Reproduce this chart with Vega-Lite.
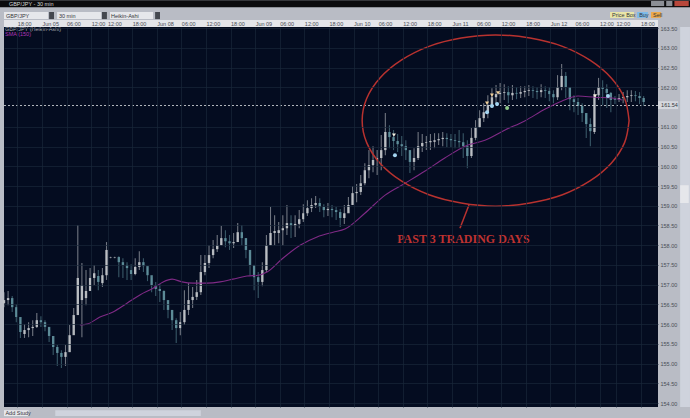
{"$schema":"https://vega.github.io/schema/vega-lite/v6.json","autosize":"none","width":654,"height":380,"padding":{"left":4,"top":27,"right":32,"bottom":11},"background":"#b9bcc5","view":{"fill":"#040c20","stroke":null},
"config":{"font":"Liberation Sans"},
"datasets":{
"bars":[{"b":0,"o":156.53,"c":156.61,"h":156.81,"l":156.43},{"b":2,"o":156.61,"c":156.66,"h":156.84,"l":156.48},{"b":4,"o":156.66,"c":156.43,"h":156.71,"l":156.31},{"b":6,"o":156.43,"c":156.18,"h":156.51,"l":156.05},{"b":8,"o":156.18,"c":155.8,"h":156.1,"l":155.65},{"b":10,"o":155.75,"c":155.85,"h":156,"l":155.65},{"b":12,"o":155.85,"c":155.9,"h":156.05,"l":155.67},{"b":14,"o":155.9,"c":155.93,"h":156.1,"l":155.7},{"b":16,"o":155.93,"c":156.1,"h":156.28,"l":155.9},{"b":18,"o":156.1,"c":156.05,"h":156.2,"l":155.93},{"b":20,"o":156.05,"c":155.93,"h":156.1,"l":155.82},{"b":22,"o":155.93,"c":155.7,"h":155.9,"l":155.55},{"b":24,"o":155.7,"c":155.42,"h":155.6,"l":155.22},{"b":26,"o":155.42,"c":155.27,"h":155.47,"l":154.94},{"b":28,"o":155.27,"c":155.17,"h":155.34,"l":154.89},{"b":30,"o":155.17,"c":155.29,"h":155.47,"l":154.94},{"b":32,"o":155.29,"c":155.72,"h":155.98,"l":155.34},{"b":34,"o":155.72,"c":156.23,"h":156.41,"l":155.9},{"b":36,"o":156.23,"c":157.17,"h":158.51,"l":156.48},{"b":38,"o":156.61,"c":156.99,"h":157.55,"l":155.67},{"b":40,"o":156.66,"c":156.84,"h":157.37,"l":156.48},{"b":42,"o":156.84,"c":157.17,"h":157.42,"l":156.86},{"b":44,"o":157.17,"c":157.29,"h":157.5,"l":156.99},{"b":46,"o":157.22,"c":157.07,"h":157.37,"l":156.86},{"b":48,"o":157.04,"c":157.24,"h":157.42,"l":156.94},{"b":50,"o":157.24,"c":157.88,"h":158.08,"l":157.12},{"b":52,"o":157.69,"c":157.7,"h":157.71,"l":157.67},{"b":54,"o":157.69,"c":157.7,"h":157.71,"l":157.67},{"b":56,"o":157.7,"c":157.57,"h":157.72,"l":157.19},{"b":58,"o":157.57,"c":157.5,"h":157.67,"l":157.17},{"b":60,"o":157.5,"c":157.42,"h":157.57,"l":157.12},{"b":62,"o":157.37,"c":157.27,"h":157.52,"l":157.12},{"b":64,"o":157.27,"c":157.45,"h":157.67,"l":157.24},{"b":66,"o":157.45,"c":157.57,"h":157.85,"l":157.37},{"b":68,"o":157.57,"c":157.47,"h":157.67,"l":157.32},{"b":70,"o":157.47,"c":157.24,"h":157.42,"l":157.09},{"b":72,"o":157.24,"c":156.99,"h":157.17,"l":156.81},{"b":74,"o":156.99,"c":156.89,"h":157.07,"l":156.71},{"b":76,"o":156.89,"c":156.84,"h":157.02,"l":156.56},{"b":78,"o":156.84,"c":156.61,"h":156.86,"l":156.36},{"b":80,"o":156.61,"c":156.36,"h":156.58,"l":156.15},{"b":82,"o":156.36,"c":156.1,"h":156.36,"l":155.85},{"b":84,"o":156.1,"c":155.9,"h":156.15,"l":155.52},{"b":86,"o":155.9,"c":156.05,"h":156.31,"l":155.72},{"b":88,"o":156.05,"c":156.36,"h":156.86,"l":155.98},{"b":90,"o":156.36,"c":156.61,"h":157.04,"l":156.23},{"b":92,"o":156.61,"c":156.69,"h":156.94,"l":156.41},{"b":94,"o":156.69,"c":156.81,"h":157.12,"l":156.61},{"b":96,"o":156.81,"c":157.32,"h":157.75,"l":156.74},{"b":98,"o":157.32,"c":157.55,"h":157.75,"l":157.24},{"b":100,"o":157.55,"c":157.75,"h":158,"l":157.42},{"b":102,"o":157.75,"c":157.9,"h":158.13,"l":157.67},{"b":104,"o":157.9,"c":158,"h":158.26,"l":157.83},{"b":106,"o":158,"c":158.18,"h":158.49,"l":158},{"b":108,"o":158.18,"c":158.1,"h":158.38,"l":157.95},{"b":110,"o":158.1,"c":158.05,"h":158.26,"l":157.88},{"b":112,"o":158.05,"c":158.08,"h":158.31,"l":157.93},{"b":114,"o":158.08,"c":158.33,"h":158.56,"l":158.08},{"b":116,"o":158.33,"c":158.18,"h":158.51,"l":158},{"b":118,"o":158.18,"c":157.88,"h":158.18,"l":157.67},{"b":120,"o":157.88,"c":157.5,"h":157.83,"l":157.24},{"b":122,"o":157.5,"c":157.19,"h":157.5,"l":156.86},{"b":124,"o":157.19,"c":157.07,"h":157.32,"l":156.66},{"b":126,"o":157.07,"c":157.37,"h":157.57,"l":156.96},{"b":128,"o":157.37,"c":158,"h":158.26,"l":157.32},{"b":130,"o":158,"c":158.31,"h":158.97,"l":158},{"b":132,"o":158.31,"c":158.36,"h":158.76,"l":158},{"b":134,"o":158.31,"c":158.38,"h":158.59,"l":158.05},{"b":136,"o":158.38,"c":158.43,"h":158.76,"l":158},{"b":138,"o":158.43,"c":158.56,"h":159.02,"l":158.26},{"b":140,"o":158.56,"c":158.49,"h":158.76,"l":158.18},{"b":142,"o":158.49,"c":158.54,"h":158.76,"l":158.21},{"b":144,"o":158.54,"c":158.66,"h":158.89,"l":158.43},{"b":146,"o":158.66,"c":158.81,"h":159.04,"l":158.59},{"b":148,"o":158.81,"c":158.94,"h":159.14,"l":158.74},{"b":150,"o":158.94,"c":159.02,"h":159.19,"l":158.84},{"b":152,"o":159.02,"c":159.07,"h":159.25,"l":158.94},{"b":154,"o":159.07,"c":158.97,"h":159.19,"l":158.84},{"b":156,"o":158.97,"c":158.89,"h":159.04,"l":158.71},{"b":158,"o":158.89,"c":158.92,"h":159.07,"l":158.74},{"b":160,"o":158.92,"c":158.89,"h":159.02,"l":158.71},{"b":162,"o":158.89,"c":158.84,"h":158.97,"l":158.64},{"b":164,"o":158.84,"c":158.69,"h":158.92,"l":158.46},{"b":166,"o":158.69,"c":158.81,"h":159.02,"l":158.54},{"b":168,"o":158.81,"c":159.02,"h":159.22,"l":158.84},{"b":170,"o":159.02,"c":159.32,"h":159.5,"l":159.02},{"b":172,"o":159.32,"c":159.35,"h":159.55,"l":159.09},{"b":174,"o":159.35,"c":159.57,"h":159.78,"l":159.27},{"b":176,"o":159.57,"c":159.9,"h":160.08,"l":159.52},{"b":178,"o":159.9,"c":160.03,"h":160.41,"l":159.7},{"b":180,"o":160.03,"c":160.16,"h":160.51,"l":159.85},{"b":182,"o":160.16,"c":160.21,"h":160.41,"l":159.78},{"b":184,"o":160.21,"c":160.41,"h":160.79,"l":159.9},{"b":186,"o":160.41,"c":160.87,"h":161.35,"l":160.28},{"b":188,"o":160.87,"c":160.74,"h":161.04,"l":160.46},{"b":190,"o":160.74,"c":160.64,"h":160.92,"l":160.41},{"b":192,"o":160.64,"c":160.56,"h":160.82,"l":160.36},{"b":194,"o":160.56,"c":160.51,"h":160.77,"l":160.26},{"b":196,"o":160.51,"c":160.41,"h":160.66,"l":160.16},{"b":198,"o":160.41,"c":160.11,"h":160.41,"l":159.83},{"b":200,"o":160.11,"c":160.21,"h":160.46,"l":159.9},{"b":202,"o":160.21,"c":160.51,"h":160.87,"l":160.16},{"b":204,"o":160.51,"c":160.59,"h":160.82,"l":160.36},{"b":206,"o":160.59,"c":160.61,"h":160.77,"l":160.41},{"b":208,"o":160.61,"c":160.64,"h":160.82,"l":160.41},{"b":210,"o":160.62,"c":160.66,"h":160.84,"l":160.46},{"b":212,"o":160.66,"c":160.69,"h":160.84,"l":160.54},{"b":214,"o":160.69,"c":160.72,"h":160.87,"l":160.51},{"b":216,"o":160.72,"c":160.69,"h":160.84,"l":160.49},{"b":218,"o":160.69,"c":160.66,"h":160.82,"l":160.49},{"b":220,"o":160.66,"c":160.64,"h":160.82,"l":160.46},{"b":222,"o":160.64,"c":160.61,"h":160.92,"l":160.46},{"b":224,"o":160.61,"c":160.51,"h":160.84,"l":160.21},{"b":226,"o":160.51,"c":160.26,"h":160.66,"l":159.95},{"b":228,"o":160.26,"c":160.72,"h":160.97,"l":160.21},{"b":230,"o":160.72,"c":160.99,"h":161.17,"l":160.66},{"b":232,"o":160.99,"c":161.22,"h":161.42,"l":160.97},{"b":234,"o":161.22,"c":161.37,"h":161.6,"l":161.12},{"b":236,"o":161.37,"c":161.55,"h":161.8,"l":161.22},{"b":238,"o":161.55,"c":161.75,"h":161.98,"l":161.48},{"b":240,"o":161.75,"c":161.83,"h":162.06,"l":161.58},{"b":242,"o":161.83,"c":161.86,"h":162.11,"l":161.6},{"b":244,"o":161.86,"c":161.88,"h":162.08,"l":161.68},{"b":246,"o":161.88,"c":161.8,"h":162.03,"l":161.6},{"b":248,"o":161.8,"c":161.86,"h":162.06,"l":161.68},{"b":250,"o":161.86,"c":161.84,"h":162.01,"l":161.7},{"b":252,"o":161.84,"c":161.88,"h":162.03,"l":161.73},{"b":254,"o":161.88,"c":161.91,"h":162.03,"l":161.75},{"b":256,"o":161.91,"c":161.93,"h":162.06,"l":161.78},{"b":258,"o":161.93,"c":161.91,"h":162.03,"l":161.73},{"b":260,"o":161.91,"c":161.88,"h":162.01,"l":161.7},{"b":262,"o":161.88,"c":161.93,"h":162.08,"l":161.75},{"b":264,"o":161.93,"c":161.91,"h":162.03,"l":161.73},{"b":266,"o":161.91,"c":161.83,"h":162.01,"l":161.65},{"b":268,"o":161.83,"c":161.75,"h":161.93,"l":161.6},{"b":270,"o":161.75,"c":162.01,"h":162.31,"l":161.68},{"b":272,"o":162.01,"c":162.29,"h":162.59,"l":161.93},{"b":274,"o":162.29,"c":162.01,"h":162.39,"l":161.73},{"b":276,"o":162.01,"c":161.7,"h":161.98,"l":161.42},{"b":278,"o":161.7,"c":161.63,"h":161.8,"l":161.37},{"b":280,"o":161.63,"c":161.53,"h":161.73,"l":161.3},{"b":282,"o":161.53,"c":161.35,"h":161.6,"l":161.12},{"b":284,"o":161.35,"c":161.07,"h":161.32,"l":160.72},{"b":286,"o":161.07,"c":160.89,"h":161.22,"l":160.51},{"b":288,"o":160.87,"c":161.8,"h":161.93,"l":160.82},{"b":290,"o":161.8,"c":162.01,"h":162.24,"l":161.68},{"b":292,"o":162.01,"c":161.96,"h":162.18,"l":161.55},{"b":294,"o":161.96,"c":161.86,"h":162.08,"l":161.48},{"b":296,"o":161.86,"c":161.68,"h":161.88,"l":161.37},{"b":298,"o":161.7,"c":161.68,"h":161.78,"l":161.58},{"b":300,"o":161.7,"c":161.73,"h":161.83,"l":161.63},{"b":302,"o":161.73,"c":161.75,"h":161.88,"l":161.6},{"b":304,"o":161.75,"c":161.78,"h":161.93,"l":161.63},{"b":306,"o":161.78,"c":161.8,"h":161.93,"l":161.63},{"b":308,"o":161.8,"c":161.78,"h":161.91,"l":161.65},{"b":310,"o":161.78,"c":161.73,"h":161.88,"l":161.58},{"b":312,"o":161.73,"c":161.63,"h":161.78,"l":161.53}],
"sma":[{"b":37,"p":155.98},{"b":40.5,"p":156},{"b":46.8,"p":156.18},{"b":53.2,"p":156.31},{"b":60,"p":156.53},{"b":66.3,"p":156.74},{"b":72.7,"p":156.91},{"b":77.6,"p":157.07},{"b":82,"p":157.14},{"b":86.8,"p":157.07},{"b":92.2,"p":157.04},{"b":99,"p":157.04},{"b":105.4,"p":157.07},{"b":111.7,"p":157.14},{"b":118.5,"p":157.22},{"b":124,"p":157.24},{"b":128.3,"p":157.32},{"b":136,"p":157.67},{"b":144.4,"p":158},{"b":152.7,"p":158.21},{"b":160.5,"p":158.33},{"b":166.3,"p":158.41},{"b":176,"p":158.81},{"b":185.9,"p":159.27},{"b":195.6,"p":159.57},{"b":205.4,"p":159.88},{"b":215,"p":160.21},{"b":224.9,"p":160.51},{"b":234.6,"p":160.66},{"b":244.4,"p":160.92},{"b":254,"p":161.15},{"b":264,"p":161.45},{"b":272,"p":161.65},{"b":280,"p":161.78},{"b":288.3,"p":161.75},{"b":296.6,"p":161.73},{"b":301.5,"p":161.68}],
"ellipse":[{"i":0,"b":304.9,"p":161.16},{"i":1,"b":302.7,"p":161.72},{"i":2,"b":296.2,"p":162.24},{"i":3,"b":285.8,"p":162.69},{"i":4,"b":272.4,"p":163.04},{"i":5,"b":256.6,"p":163.25},{"i":6,"b":239.8,"p":163.33},{"i":7,"b":223,"p":163.25},{"i":8,"b":207.3,"p":163.04},{"i":9,"b":193.8,"p":162.69},{"i":10,"b":183.4,"p":162.24},{"i":11,"b":176.9,"p":161.72},{"i":12,"b":174.7,"p":161.16},{"i":13,"b":176.9,"p":160.6},{"i":14,"b":183.4,"p":160.08},{"i":15,"b":193.8,"p":159.63},{"i":16,"b":207.3,"p":159.28},{"i":17,"b":223,"p":159.07},{"i":18,"b":239.8,"p":158.99},{"i":19,"b":256.6,"p":159.07},{"i":20,"b":272.4,"p":159.28},{"i":21,"b":285.8,"p":159.63},{"i":22,"b":296.2,"p":160.08},{"i":23,"b":302.7,"p":160.6},{"i":24,"b":304.9,"p":161.16}],
"pointer":[{"i":0,"b":226.8,"p":159.02},{"i":1,"b":222.4,"p":158.43}],
"signals":[{"b":190.2,"p":160.79,"k":"sell"},{"b":190.7,"p":160.28,"k":"buy"},{"b":235.6,"p":161.6,"k":"order"},{"b":238,"p":161.8,"k":"order"},{"b":241,"p":161.86,"k":"order"},{"b":235.6,"p":161.37,"k":"buy"},{"b":238,"p":161.53,"k":"buy"},{"b":240.5,"p":161.58,"k":"buy"},{"b":245.4,"p":161.48,"k":"exit"},{"b":288.3,"p":161.78,"k":"sell"},{"b":294.6,"p":161.78,"k":"buy"}],
"chrome":[{"x":-1.95,"x2":334.6,"y":164.21,"y2":164.03,"part":"title"},{"x":0,"x2":319,"y":163.71,"y2":163.53,"part":"strip"},{"x":315.6,"x2":322,"y":164.19,"y2":164.06,"part":"control"},{"x":323,"x2":326,"y":164.19,"y2":164.06,"part":"control"},{"x":327,"x2":334,"y":164.19,"y2":164.06,"part":"close"},{"x":0,"x2":21.5,"y":163.91,"y2":163.73,"part":"field"},{"x":22,"x2":24.4,"y":163.91,"y2":163.73,"part":"arrow"},{"x":25.9,"x2":47.3,"y":163.91,"y2":163.73,"part":"field"},{"x":47.8,"x2":50.2,"y":163.91,"y2":163.73,"part":"arrow"},{"x":51.7,"x2":72.7,"y":163.91,"y2":163.73,"part":"field"},{"x":73.7,"x2":76.1,"y":163.91,"y2":163.73,"part":"arrow"},{"x":295.6,"x2":307.3,"y":163.91,"y2":163.76,"part":"pricebox"},{"x":308.8,"x2":314.1,"y":163.91,"y2":163.76,"part":"buy"},{"x":315.6,"x2":320.5,"y":163.91,"y2":163.76,"part":"sell"},{"x":319,"x2":328.8,"y":161.65,"y2":161.45,"part":"label"},{"x":329.8,"x2":334.6,"y":163.53,"y2":153.9,"part":"scroll"},{"x":329.8,"x2":334,"y":159.52,"y2":159.07,"part":"field"},{"x":0,"x2":12,"y":153.82,"y2":153.67,"part":"field"},{"x":25,"x2":96,"y":153.82,"y2":153.67,"part":"scroll"}],
"words":[{"b":2.4,"p":164.11,"t":"GBP/JPY - 30 min","k":"light"},{"b":1,"p":163.82,"t":"GBP/JPY","k":"dark"},{"b":26.8,"p":163.82,"t":"30 min","k":"dark"},{"b":52.2,"p":163.82,"t":"Heikin-Ashi","k":"dark"},{"b":296.6,"p":163.83,"t":"Price Box","k":"dark"},{"b":309.8,"p":163.83,"t":"Buy","k":"dark"},{"b":316.6,"p":163.83,"t":"Sell","k":"dark"},{"b":320.5,"p":161.55,"t":"161.54","k":"dark"},{"b":0.7,"p":153.75,"t":"Add Study","k":"dark"},{"b":0.5,"p":163.48,"t":"GBP/JPY (Heikin-Ashi)","k":"grey"},{"b":0.5,"p":163.35,"t":"SMA (150)","k":"sma"}]
},
"layer":[
{"data":{"name":"bars"},"mark":{"type":"rule","strokeWidth":1.1,"opacity":0.6},
"encoding":{"y":{"field":"l","type":"quantitative","scale":{"domain":[153.9,163.53],"nice":false,"zero":false},"axis":{"orient":"right","title":null,"values":[154,154.5,155,155.5,156,156.5,157,157.5,158,158.5,159,159.5,160,160.5,161,162,162.5,163,163.5],"format":".2f","labelFontSize":5.5,"labelColor":"#4a4d55","labelPadding":2,"tickSize":0,"domain":false,"grid":true,"gridColor":"#18263a","gridWidth":0.7,"zindex":1,"labelOverlap":false,"labelBound":false,"labelFlush":false}},"y2":{"field":"h"},
"x":{"field":"b","type":"quantitative","scale":{"domain":[0,319],"nice":false,"zero":false},"axis":{"orient":"top","title":null,"values":[6.5,18.5,30.5,42.5,50.5,62.5,74.5,86.5,98.5,110.5,122.5,134.5,146.5,158.5,170.5,182.5,194.5,206.5,218.5,230.5,242.5,254.5,266.5,278.5,290.5,298.5,310.5],"labelExpr":"{'6.5':'18:00','18.5':'Jun 05','30.5':'06:00','42.5':'12:00','50.5':'12:00','62.5':'18:00','74.5':'Jun 08','86.5':'06:00','98.5':'12:00','110.5':'18:00','122.5':'Jun 09','134.5':'06:00','146.5':'12:00','158.5':'18:00','170.5':'Jun 10','182.5':'06:00','194.5':'12:00','206.5':'18:00','218.5':'Jun 11','230.5':'06:00','242.5':'12:00','254.5':'18:00','266.5':'Jun 12','278.5':'06:00','290.5':'12:00','298.5':'12:00','310.5':'18:00'}[datum.value]","labelFontSize":5.5,"labelColor":"#4a4d55","labelAlign":"left","labelPadding":1,"labelOverlap":false,"labelBound":false,"labelFlush":false,"tickSize":0,"domain":false,"grid":true,"gridColor":"#18263a","gridWidth":0.7,"zindex":1}},
"color":{"condition":{"test":"datum.c>=datum.o","value":"#b9bdc2"},"value":"#5b8a96"}}},
{"data":{"name":"bars"},"mark":{"type":"rule","strokeWidth":2.4,"opacity":0.92},"encoding":{"x":{"field":"b","type":"quantitative","axis":null},"y":{"field":"o","type":"quantitative","axis":null},"y2":{"field":"c"},"color":{"condition":{"test":"datum.c>=datum.o","value":"#c2c6ca"},"value":"#62929e"}}},
{"data":{"values":[{"p":161.54}]},"mark":{"type":"rule","color":"#c8ccd0","strokeWidth":0.9,"strokeDash":[2,2]},"encoding":{"y":{"field":"p","type":"quantitative","axis":null}}},
{"data":{"name":"sma"},"mark":{"type":"line","color":"#7f2a85","strokeWidth":1.1,"interpolate":"monotone"},"encoding":{"x":{"field":"b","type":"quantitative","axis":null},"y":{"field":"p","type":"quantitative","axis":null}}},
{"data":{"name":"signals"},"mark":{"type":"point","filled":true,"opacity":1},"encoding":{"x":{"field":"b","type":"quantitative","axis":null},"y":{"field":"p","type":"quantitative","axis":null},"shape":{"field":"k","type":"nominal","legend":null,"scale":{"domain":["sell","order","buy","exit"],"range":["triangle-down","triangle-down","circle","circle"]}},"color":{"field":"k","type":"nominal","legend":null,"scale":{"domain":["sell","order","buy","exit"],"range":["#f4efe0","#f0cf9a","#a4d4f0","#8fc98a"]}},"size":{"field":"k","type":"nominal","legend":null,"scale":{"domain":["sell","order","buy","exit"],"range":[16,16,12,30]}}}},
{"data":{"name":"ellipse"},"mark":{"type":"line","color":"#b8322f","strokeWidth":1.5,"interpolate":"cardinal"},"encoding":{"x":{"field":"b","type":"quantitative","axis":null},"y":{"field":"p","type":"quantitative","axis":null},"order":{"field":"i"}}},
{"data":{"name":"pointer"},"mark":{"type":"line","color":"#b8322f","strokeWidth":1.5},"encoding":{"x":{"field":"b","type":"quantitative","axis":null},"y":{"field":"p","type":"quantitative","axis":null},"order":{"field":"i"}}},
{"data":{"values":[{"b":224.1,"p":158.16,"t":"PAST 3 TRADING DAYS"}]},"mark":{"type":"text","font":"Liberation Serif","fontWeight":"bold","fontSize":12,"color":"#bd3230"},"encoding":{"x":{"field":"b","type":"quantitative","axis":null},"y":{"field":"p","type":"quantitative","axis":null},"text":{"field":"t"}}},
{"data":{"name":"chrome"},"mark":{"type":"rect"},"encoding":{"x":{"field":"x","type":"quantitative","axis":null},"x2":{"field":"x2"},"y":{"field":"y","type":"quantitative","axis":null},"y2":{"field":"y2"},"color":{"field":"part","type":"nominal","legend":null,"scale":{"domain":["title","strip","control","close","field","arrow","pricebox","buy","sell","label","scroll"],"range":["#0b0b0d","#e4e5e9","#8c8f96","#b8473b","#e6e7eb","#44474f","#e9e6a8","#7dbbea","#eda94a","#d5d8de","#cfd3dd"]}}}},
{"data":{"name":"words"},"mark":{"type":"text","align":"left","fontSize":5.5},"encoding":{"x":{"field":"b","type":"quantitative","axis":null},"y":{"field":"p","type":"quantitative","axis":null},"text":{"field":"t"},"color":{"field":"k","type":"nominal","legend":null,"scale":{"domain":["light","dark","grey","sma"],"range":["#d8d8d8","#33353a","#a4a8ae","#b335b8"]}}}}
],
"resolve":{"axis":{"x":"independent","y":"independent"},"scale":{"color":"independent","size":"independent","shape":"independent"}}}
